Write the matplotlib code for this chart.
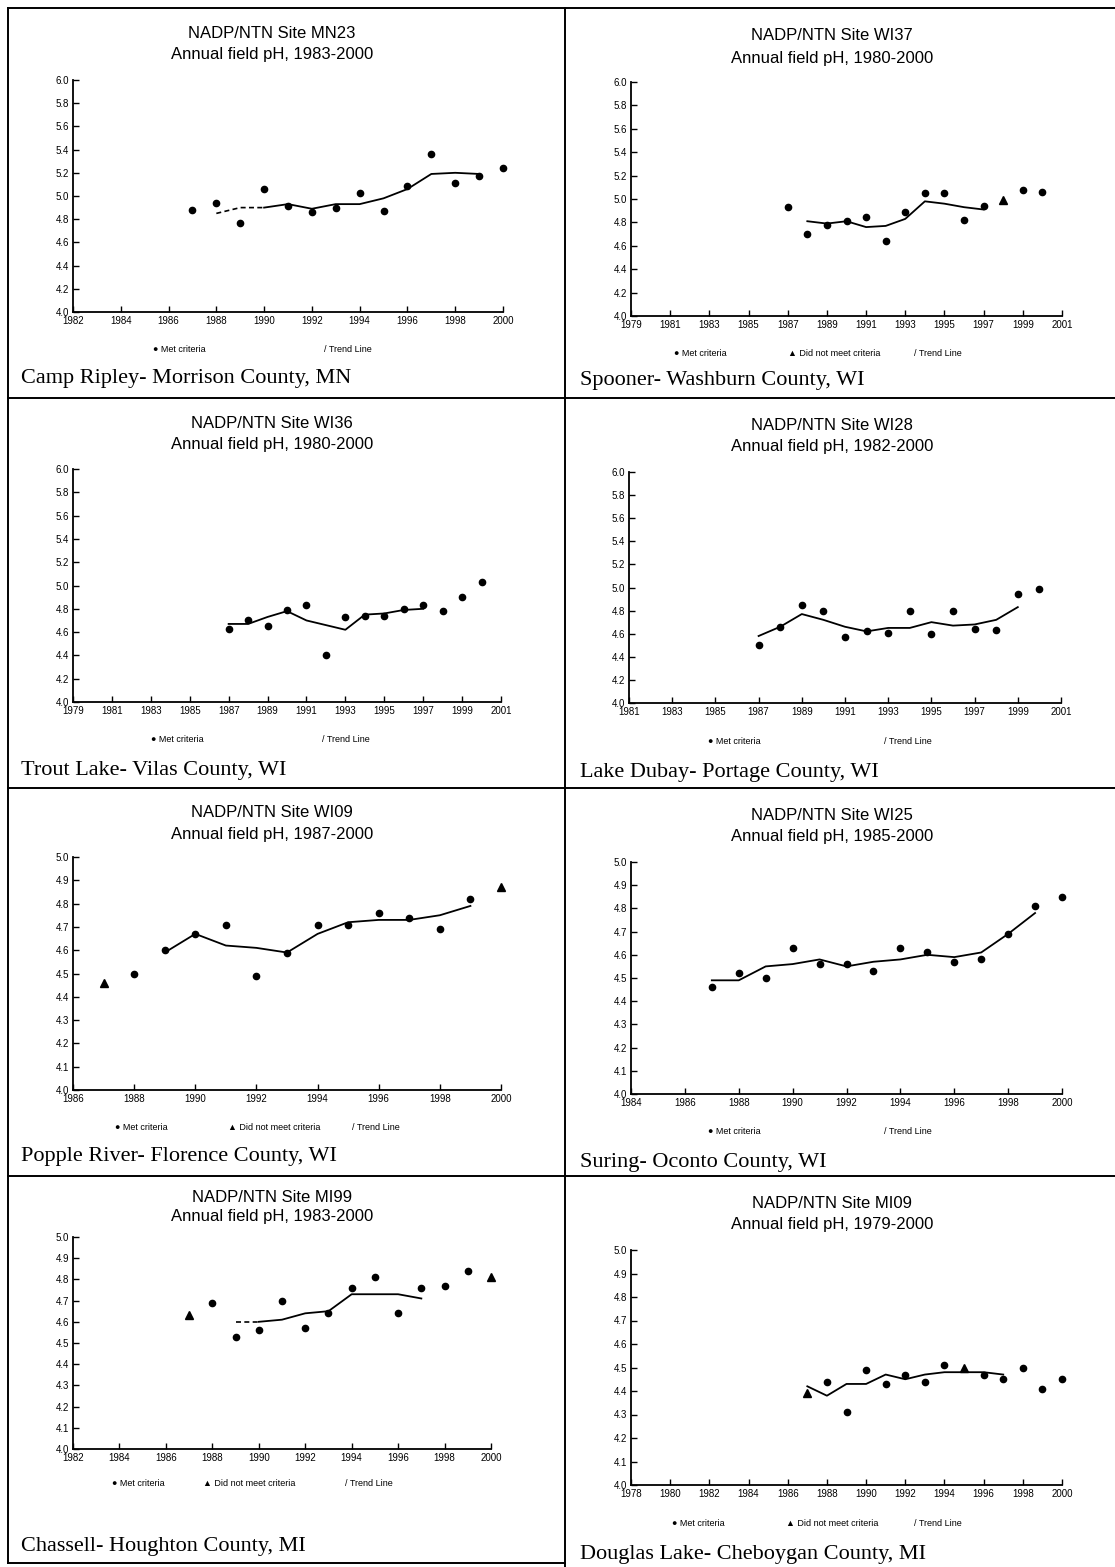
import matplotlib.pyplot as plt

# ---- data (annual field pH) ----
# MN23 Camp Ripley
mn23_yr = [1987, 1988, 1989, 1990, 1991, 1992, 1993, 1994, 1995, 1996, 1997, 1998, 1999, 2000]
mn23_ph = [4.88, 4.94, 4.77, 5.06, 4.91, 4.86, 4.90, 5.03, 4.87, 5.09, 5.36, 5.11, 5.17, 5.24]
mn23_bad_yr = []
mn23_bad_ph = []
mn23_tr_yr = [1988, 1989, 1990, 1991, 1992, 1993, 1994, 1995, 1996, 1997, 1998, 1999]
mn23_tr = [4.85, 4.90, 4.90, 4.93, 4.89, 4.93, 4.93, 4.98, 5.06, 5.19, 5.20, 5.19]

# WI37 Spooner
wi37_yr = [1987, 1988, 1989, 1990, 1991, 1992, 1993, 1994, 1995, 1996, 1997, 1999, 2000]
wi37_ph = [4.93, 4.70, 4.78, 4.81, 4.85, 4.64, 4.89, 5.05, 5.05, 4.82, 4.94, 5.08, 5.06]
wi37_bad_yr = [1998]
wi37_bad_ph = [4.99]
wi37_tr_yr = [1988, 1989, 1990, 1991, 1992, 1993, 1994, 1995, 1996, 1997]
wi37_tr = [4.81, 4.79, 4.81, 4.76, 4.77, 4.83, 4.98, 4.96, 4.93, 4.91]

# WI36 Trout Lake
wi36_yr = [1987, 1988, 1989, 1990, 1991, 1992, 1993, 1994, 1995, 1996, 1997, 1998, 1999, 2000]
wi36_ph = [4.63, 4.70, 4.65, 4.79, 4.83, 4.40, 4.73, 4.74, 4.74, 4.80, 4.83, 4.78, 4.90, 5.03]
wi36_bad_yr = []
wi36_bad_ph = []
wi36_tr_yr = [1987, 1988, 1989, 1990, 1991, 1992, 1993, 1994, 1995, 1996, 1997]
wi36_tr = [4.67, 4.67, 4.73, 4.78, 4.70, 4.66, 4.62, 4.75, 4.76, 4.79, 4.80]

# WI28 Lake Dubay
wi28_yr = [1987, 1988, 1989, 1990, 1991, 1992, 1993, 1994, 1995, 1996, 1997, 1998, 1999, 2000]
wi28_ph = [4.50, 4.66, 4.85, 4.80, 4.57, 4.62, 4.61, 4.80, 4.60, 4.80, 4.64, 4.63, 4.94, 4.99]
wi28_bad_yr = []
wi28_bad_ph = []
wi28_tr_yr = [1987, 1988, 1989, 1990, 1991, 1992, 1993, 1994, 1995, 1996, 1997, 1998, 1999]
wi28_tr = [4.58, 4.66, 4.77, 4.72, 4.66, 4.62, 4.65, 4.65, 4.70, 4.67, 4.68, 4.72, 4.83]

# WI09 Popple River
wi09_yr = [1988, 1989, 1990, 1991, 1992, 1993, 1994, 1995, 1996, 1997, 1998, 1999]
wi09_ph = [4.50, 4.60, 4.67, 4.71, 4.49, 4.59, 4.71, 4.71, 4.76, 4.74, 4.69, 4.82]
wi09_bad_yr = [1987, 2000]
wi09_bad_ph = [4.46, 4.87]
wi09_tr_yr = [1989, 1990, 1991, 1992, 1993, 1994, 1995, 1996, 1997, 1998, 1999]
wi09_tr = [4.59, 4.67, 4.62, 4.61, 4.59, 4.67, 4.72, 4.73, 4.73, 4.75, 4.79]

# WI25 Suring
wi25_yr = [1987, 1988, 1989, 1990, 1991, 1992, 1993, 1994, 1995, 1996, 1997, 1998, 1999, 2000]
wi25_ph = [4.46, 4.52, 4.50, 4.63, 4.56, 4.56, 4.53, 4.63, 4.61, 4.57, 4.58, 4.69, 4.81, 4.85]
wi25_bad_yr = []
wi25_bad_ph = []
wi25_tr_yr = [1987, 1988, 1989, 1990, 1991, 1992, 1993, 1994, 1995, 1996, 1997, 1998, 1999]
wi25_tr = [4.49, 4.49, 4.55, 4.56, 4.58, 4.55, 4.57, 4.58, 4.60, 4.59, 4.61, 4.69, 4.78]

# MI99 Chassell
mi99_yr = [1988, 1989, 1990, 1991, 1992, 1993, 1994, 1995, 1996, 1997, 1998, 1999]
mi99_ph = [4.69, 4.53, 4.56, 4.70, 4.57, 4.64, 4.76, 4.81, 4.64, 4.76, 4.77, 4.84]
mi99_bad_yr = [1987, 2000]
mi99_bad_ph = [4.63, 4.81]
mi99_tr_yr = [1989, 1990, 1991, 1992, 1993, 1994, 1995, 1996, 1997]
mi99_tr = [4.60, 4.60, 4.61, 4.64, 4.65, 4.73, 4.73, 4.73, 4.71]

# MI09 Douglas Lake
mi09_yr = [1988, 1989, 1990, 1991, 1992, 1993, 1994, 1996, 1997, 1998, 1999, 2000]
mi09_ph = [4.44, 4.31, 4.49, 4.43, 4.47, 4.44, 4.51, 4.47, 4.45, 4.50, 4.41, 4.45]
mi09_bad_yr = [1987, 1995]
mi09_bad_ph = [4.39, 4.50]
mi09_tr_yr = [1987, 1988, 1989, 1990, 1991, 1992, 1993, 1994, 1995, 1996, 1997]
mi09_tr = [4.42, 4.38, 4.43, 4.43, 4.47, 4.45, 4.47, 4.48, 4.48, 4.48, 4.47]

W, H = 1115, 1567
fig = plt.figure(figsize=(W / 100, H / 100), dpi=100)
fig.patch.set_facecolor('white')

SANS = ['Liberation Sans', 'DejaVu Sans']
SERIF = ['Liberation Serif', 'DejaVu Serif']


def fx(x):
    return x / W


def fy(y):
    return 1 - y / H


# panel layout in pixels: axes box, title rows, legend row, site label row
panels = [
    dict(site='MN23', period='1983-2000', name='Camp Ripley- Morrison County, MN',
         yr=mn23_yr, ph=mn23_ph, byr=mn23_bad_yr, bph=mn23_bad_ph, tyr=mn23_tr_yr, tr=mn23_tr,
         box=(73, 80, 503, 312), xr=(1982, 2000), ytop=6.0, cx=272, t1=33, t2=55,
         leg=350, legx=(153, None, 324), name_y=378, dash=2),
    dict(site='WI37', period='1980-2000', name='Spooner- Washburn County, WI',
         yr=wi37_yr, ph=wi37_ph, byr=wi37_bad_yr, bph=wi37_bad_ph, tyr=wi37_tr_yr, tr=wi37_tr,
         box=(631, 82, 1062, 316), xr=(1979, 2001), ytop=6.0, cx=832, t1=35, t2=58,
         leg=353, legx=(674, 788, 914), name_y=380, dash=0),
    dict(site='WI36', period='1980-2000', name='Trout Lake- Vilas County, WI',
         yr=wi36_yr, ph=wi36_ph, byr=wi36_bad_yr, bph=wi36_bad_ph, tyr=wi36_tr_yr, tr=wi36_tr,
         box=(73, 469, 501, 702), xr=(1979, 2001), ytop=6.0, cx=272, t1=423, t2=445,
         leg=739, legx=(151, None, 322), name_y=771, dash=0),
    dict(site='WI28', period='1982-2000', name='Lake Dubay- Portage County, WI',
         yr=wi28_yr, ph=wi28_ph, byr=wi28_bad_yr, bph=wi28_bad_ph, tyr=wi28_tr_yr, tr=wi28_tr,
         box=(629, 472, 1061, 703), xr=(1981, 2001), ytop=6.0, cx=832, t1=425, t2=447,
         leg=741, legx=(708, None, 884), name_y=773, dash=0),
    dict(site='WI09', period='1987-2000', name='Popple River- Florence County, WI',
         yr=wi09_yr, ph=wi09_ph, byr=wi09_bad_yr, bph=wi09_bad_ph, tyr=wi09_tr_yr, tr=wi09_tr,
         box=(73, 857, 501, 1090), xr=(1986, 2000), ytop=5.0, cx=272, t1=813, t2=834,
         leg=1128, legx=(115, 228, 352), name_y=1157, dash=0),
    dict(site='WI25', period='1985-2000', name='Suring- Oconto County, WI',
         yr=wi25_yr, ph=wi25_ph, byr=wi25_bad_yr, bph=wi25_bad_ph, tyr=wi25_tr_yr, tr=wi25_tr,
         box=(631, 862, 1062, 1094), xr=(1984, 2000), ytop=5.0, cx=832, t1=816, t2=837,
         leg=1131, legx=(708, None, 884), name_y=1162, dash=0),
    dict(site='MI99', period='1983-2000', name='Chassell- Houghton County, MI',
         yr=mi99_yr, ph=mi99_ph, byr=mi99_bad_yr, bph=mi99_bad_ph, tyr=mi99_tr_yr, tr=mi99_tr,
         box=(73, 1237, 491, 1449), xr=(1982, 2000), ytop=5.0, cx=272, t1=1197, t2=1217,
         leg=1484, legx=(112, 203, 345), name_y=1546, dash=1),
    dict(site='MI09', period='1979-2000', name='Douglas Lake- Cheboygan County, MI',
         yr=mi09_yr, ph=mi09_ph, byr=mi09_bad_yr, bph=mi09_bad_ph, tyr=mi09_tr_yr, tr=mi09_tr,
         box=(631, 1250, 1062, 1485), xr=(1978, 2000), ytop=5.0, cx=832, t1=1203, t2=1225,
         leg=1523, legx=(672, 786, 914), name_y=1554, dash=0),
]

for p in panels:
    x0, y0, x1, y1 = p['box']
    ax = fig.add_axes([fx(x0), fy(y1), (x1 - x0) / W, (y1 - y0) / H])
    ax.set_xlim(*p['xr'])
    ax.set_ylim(4.0, p['ytop'])
    ax.set_xticks(range(p['xr'][0], p['xr'][1] + 1, 2))
    step = 0.2 if p['ytop'] == 6.0 else 0.1
    n = int(round((p['ytop'] - 4.0) / step))
    yt = [4.0 + i * step for i in range(n + 1)]
    ax.set_yticks(yt)
    ax.set_yticklabels(['%.1f' % v for v in yt])
    for s in ('top', 'right'):
        ax.spines[s].set_visible(False)
    for s in ('left', 'bottom'):
        ax.spines[s].set_linewidth(1.3)
    ax.tick_params(direction='in', length=4, width=1.0, labelsize=7, pad=3)
    for lab in ax.get_xticklabels() + ax.get_yticklabels():
        lab.set_family(SANS)

    # trend line (leading segments dashed where the scan shows it)
    d = p['dash']
    if d:
        ax.plot(p['tyr'][:d + 1], p['tr'][:d + 1], color='black', lw=1.2, ls=(0, (3, 2)))
    ax.plot(p['tyr'][d:], p['tr'][d:], color='black', lw=1.3)
    ax.plot(p['yr'], p['ph'], 'o', color='black', ms=4.5, clip_on=False)
    if p['byr']:
        ax.plot(p['byr'], p['bph'], '^', color='black', ms=5.5, clip_on=False)

    fig.text(fx(p['cx']), fy(p['t1']), 'NADP/NTN Site ' + p['site'], ha='center', va='center',
             fontsize=12, family=SANS)
    fig.text(fx(p['cx']), fy(p['t2']), 'Annual field pH, ' + p['period'], ha='center', va='center',
             fontsize=12, family=SANS)

    lm, lt, ll = p['legx']
    fig.text(fx(lm), fy(p['leg']), '\u25cf Met criteria', ha='left', va='center', fontsize=6.5,
             family=SANS)
    if lt is not None:
        fig.text(fx(lt), fy(p['leg']), '\u25b2 Did not meet criteria', ha='left', va='center',
                 fontsize=6.5, family=SANS)
    fig.text(fx(ll), fy(p['leg']), '/ Trend Line', ha='left', va='center', fontsize=6.5,
             family=SANS)

    nx = 21 if p['cx'] < 500 else 580
    fig.text(fx(nx), fy(p['name_y']), p['name'], ha='left', va='center', fontsize=16,
             family=SERIF)

# page frame lines
def hline(y, xa, xb):
    fig.add_artist(plt.Line2D([fx(xa), fx(xb)], [fy(y), fy(y)], color='black', lw=1.4))


def vline(x, ya, yb):
    fig.add_artist(plt.Line2D([fx(x), fx(x)], [fy(ya), fy(yb)], color='black', lw=1.4))


hline(8, 8, 1115)
hline(398, 8, 1115)
hline(788, 8, 1115)
hline(1176, 8, 1115)
hline(1563, 8, 565)
vline(8, 8, 1563)
vline(565, 8, 1567)

fig.savefig('out.png', dpi=100, facecolor='white')
